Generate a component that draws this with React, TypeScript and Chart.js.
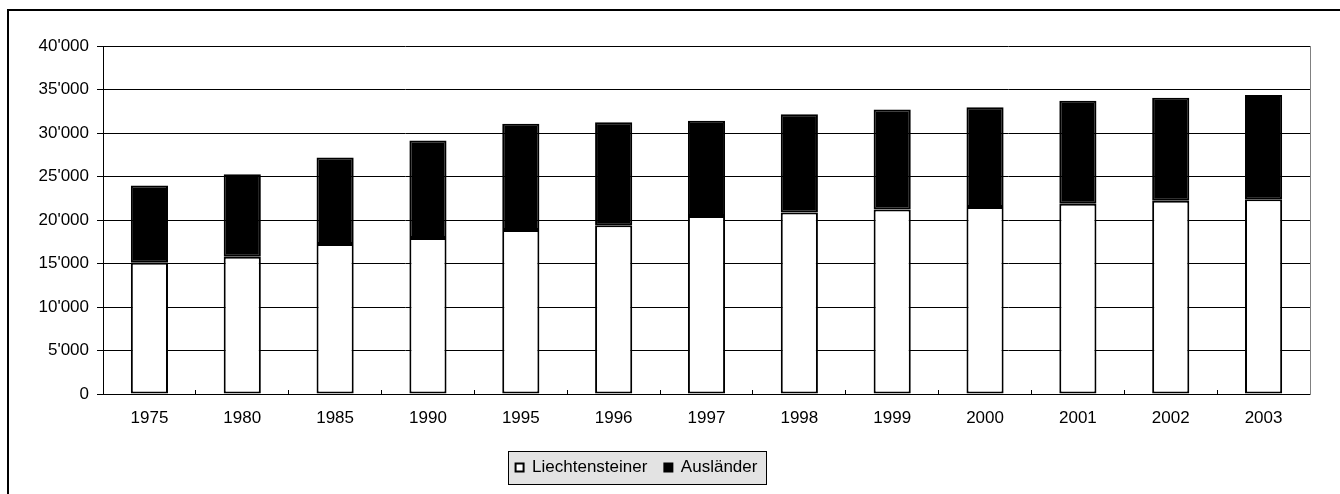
import React, { useEffect, useRef } from "react";
import { Chart, registerables } from "chart.js";

Chart.register(...registerables);

const years = ["1975", "1980", "1985", "1990", "1995", "1996", "1997", "1998", "1999", "2000", "2001", "2002", "2003"];
const liechtensteiner = [15080, 15770, 17230, 17920, 18850, 19390, 20470, 20860, 21200, 21500, 21870, 22200, 22380];
const auslaender = [8880, 9500, 9960, 11230, 12220, 11840, 10950, 11290, 11490, 11450, 11830, 11840, 12000];
const seriesNames = ["Liechtensteiner", "Ausländer"];

const Y_MIN = 0;
const Y_MAX = 40000;
const Y_STEP = 5000;

const FONT = "'Liberation Sans', Arial, Helvetica, sans-serif";
const LEGEND_CENTER_X = 636.5;
const LEGEND_TOP = 442;

const fmt = (v: number) => String(v).replace(/\B(?=(\d{3})+(?!\d))/g, "'");

const decorPlugin = {
  id: "decor",
  afterLayout(chart: any) {
    const lg = chart.legend;
    if (!lg) return;
    const dx = LEGEND_CENTER_X - (lg.left + lg.right) / 2;
    lg.left += dx;
    lg.right += dx;
    const dy = LEGEND_TOP - lg.top;
    lg.top += dy;
    lg.bottom += dy;
  },
  beforeDraw(chart: any) {
    const lg = chart.legend;
    if (!lg || !lg.legendHitBoxes || !lg.legendHitBoxes.length) return;
    const hb = lg.legendHitBoxes;
    let l = Infinity, r = -Infinity;
    for (const h of hb) {
      l = Math.min(l, h.left);
      r = Math.max(r, h.left + h.width);
    }
    const mid = hb[0].top + hb[0].height / 2;
    const ctx = chart.ctx;
    ctx.save();
    const x0 = Math.round(l - 8) + 0.5;
    const x1 = Math.round(r + 9) + 0.5;
    const y0 = Math.round(mid - 16.5) + 0.5;
    const y1 = Math.round(mid + 16.5) + 0.5;
    ctx.fillStyle = "#e3e3e3";
    ctx.fillRect(x0, y0, x1 - x0, y1 - y0);
    ctx.strokeStyle = "#000";
    ctx.lineWidth = 1;
    ctx.strokeRect(x0, y0, x1 - x0, y1 - y0);
    ctx.restore();
  },
  afterDraw(chart: any) {
    const a = chart.chartArea;
    const ctx = chart.ctx;
    ctx.save();
    ctx.strokeStyle = "#808080";
    ctx.lineWidth = 1;
    ctx.beginPath();
    const x = Math.round(a.right) + 0.5;
    ctx.moveTo(x, a.top);
    ctx.lineTo(x, a.bottom + 1);
    ctx.stroke();
    ctx.restore();
  },
};

function BarChart() {
  const ref = useRef<HTMLCanvasElement | null>(null);
  useEffect(() => {
    if (!ref.current) return;
    const chart = new Chart(ref.current, {
      type: "bar",
      data: {
        labels: years,
        datasets: [
          {
            label: seriesNames[0],
            data: liechtensteiner,
            backgroundColor: "#ffffff",
            borderColor: "#000000",
            borderWidth: 2,
            borderSkipped: false,
            barPercentage: 0.4,
            categoryPercentage: 1,
          },
          {
            label: seriesNames[1],
            data: auslaender,
            backgroundColor: "#000000",
            borderColor: "#000000",
            borderWidth: 2,
            borderSkipped: false,
            barPercentage: 0.4,
            categoryPercentage: 1,
          },
        ],
      },
      options: {
        responsive: false,
        animation: false,
        events: [],
        layout: { padding: { left: 0, right: 30, top: 46, bottom: 16 } },
        plugins: {
          tooltip: { enabled: false },
          title: { display: false },
          legend: {
            display: true,
            position: "bottom",
            labels: {
              boxWidth: 8,
              boxHeight: 8,
              padding: 17,
              color: "#000",
              font: { family: FONT, size: 17 },
            },
          },
        },
        scales: {
          x: {
            stacked: true,
            afterFit: (s: any) => {
              s.height = 40;
            },
            grid: {
              display: true,
              drawOnChartArea: false,
              drawTicks: true,
              tickLength: -4,
              color: "#000",
              offset: true,
            },
            border: { display: true, color: "#000", width: 1 },
            ticks: {
              color: "#000",
              font: { family: FONT, size: 17 },
              padding: 18,
              autoSkip: false,
              maxRotation: 0,
            },
          },
          y: {
            stacked: true,
            min: Y_MIN,
            max: Y_MAX,
            afterFit: (s: any) => {
              s.width = 103;
            },
            grid: {
              color: "#000",
              lineWidth: 1,
              drawTicks: true,
              tickLength: 6,
            },
            border: { display: true, color: "#000", width: 1 },
            ticks: {
              stepSize: Y_STEP,
              color: "#000",
              font: { family: FONT, size: 17 },
              padding: 8,
              callback: (v: any) => fmt(Number(v)),
            },
          },
        },
      },
      plugins: [decorPlugin],
    } as any);
    return () => chart.destroy();
  }, []);
  return (
    <canvas
      ref={ref}
      width={1340}
      height={494}
      style={{ position: "absolute", left: 0, top: 0, width: 1340, height: 494 }}
    />
  );
}

export default function App() {
  return (
    <div
      style={{
        position: "fixed",
        left: 0,
        top: 0,
        width: 1340,
        height: 494,
        overflow: "hidden",
        background: "#fff",
      }}
    >
      <div
        style={{
          position: "absolute",
          left: 7,
          top: 9,
          width: 1400,
          height: 600,
          borderTop: "2px solid #000",
          borderLeft: "2px solid #000",
        }}
      />
      <BarChart />
    </div>
  );
}
